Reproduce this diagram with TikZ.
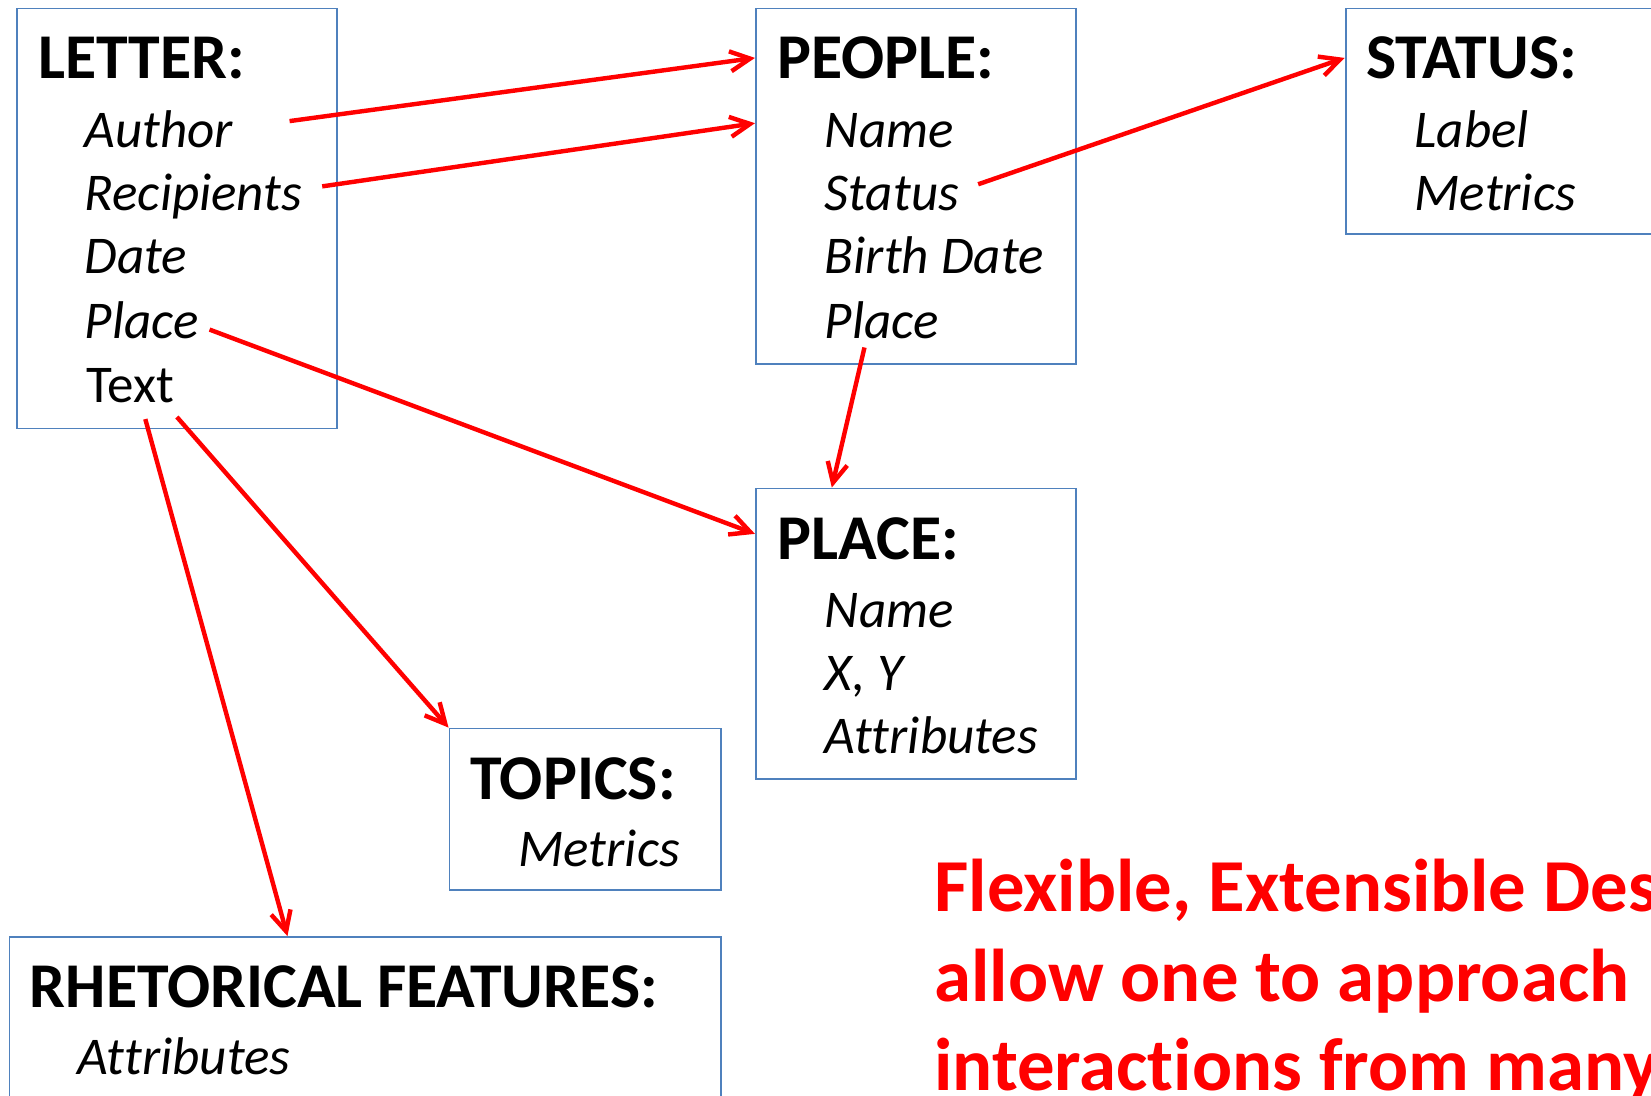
\documentclass[tikz,border=0pt]{standalone}
\usepackage{fontspec}
\setmainfont[Ligatures={NoCommon,NoRare,NoContextual},RawFeature={-liga;-dlig;-calt}]{Carlito}
\usetikzlibrary{arrows.meta,fit}
\definecolor{boxblue}{HTML}{4F81BD}
\definecolor{linkred}{HTML}{FF0000}
\begin{document}
\begin{tikzpicture}[x=0.5pt,y=-0.5pt,
  entity/.style={draw=boxblue, line width=0.8pt, inner sep=0pt},
  heading/.style={anchor=base west, inner sep=0pt, font=\fontsize{30.3}{36}\selectfont\bfseries},
  field/.style={anchor=base west, inner sep=0pt, font=\fontsize{25.2}{30}\selectfont\itshape},
  plainfield/.style={anchor=base west, inner sep=0pt, font=\fontsize{25.2}{30}\selectfont},
  note/.style={anchor=base west, inner sep=0pt, text=linkred, font=\fontsize{35.5}{42.5}\selectfont\bfseries},
  link/.style={draw=linkred, line width=2.1pt,
    -{Straight Barb[length=9.5pt,width=9.5pt,line width=2.1pt]}}]
\useasboundingbox (0,0) rectangle (1568,1040);
\clip (0,0) rectangle (1568,1040);

% entity boxes
\node[entity, fit={(16,8) (320,407)}] (letter) {};
\node[entity, fit={(718,8) (1022,346)}] (people) {};
\node[entity, fit={(1278,8) (1600,222)}] (status) {};
\node[entity, fit={(718,464) (1022,740)}] (place) {};
\node[entity, fit={(427,692) (685,845)}] (topics) {};
\node[entity, fit={(9,890) (685,1070)}] (rhet) {};

% LETTER
\node[heading] (letter-h) at (36,75) {LETTER:};
\node[field] (l-author) at (80,140) {Author};
\node[field] (l-recip) at (80,200) {Recipients};
\node[field] (l-date) at (80,260) {Date};
\node[field] (l-place) at (80,321) {Place};
\node[plainfield] (l-text) at (82,382) {Text};

% PEOPLE
\node[heading] (people-h) at (738,75) {PEOPLE:};
\node[field] (p-name) at (783,140) {Name};
\node[field] (p-status) at (783,200) {Status};
\node[field] (p-birth) at (783,260) {Birth Date};
\node[field] (p-place) at (783,321) {Place};

% STATUS
\node[heading] (status-h) at (1297,75) {STATUS:};
\node[field] (s-label) at (1343,140) {Label};
\node[field] (s-metrics) at (1343,200) {Metrics};

% PLACE
\node[heading] (place-h) at (738,531) {PLACE:};
\node[field] (pl-name) at (783,596) {Name};
\node[field] (pl-xy) at (783,656) {X, Y};
\node[field] (pl-attr) at (783,716) {At\kern0pt tributes};

% TOPICS
\node[heading] (topics-h) at (446,759) {TOPICS:};
\node[field] (t-metrics) at (492,823) {Metrics};

% RHETORICAL FEATURES
\node[heading] (rhet-h) at (28,957) {RHETORICAL FEATURES:};
\node[field] (r-attr) at (73,1020) {At\kern0pt tributes};

% statement
\node[note] (note1) at (887,866) {Flexible, Extensible Designs};
\node[note] (note2) at (887,951) {allow one to approach};
\node[note] (note3) at (887,1036) {interac\kern0pt tions from many};

% connector ends
\coordinate (c-author) at (275,115);
\coordinate (c-recip) at (306,177);
\coordinate (c-pstatus) at (929,175);
\coordinate (c-lplace) at (199,313);
\coordinate (c-pplace) at (821,330);
\coordinate (c-text1) at (168,396);
\coordinate (c-text2) at (138,398);
\coordinate (e-people1) at (717,55);
\coordinate (e-people2) at (717,117);
\coordinate (e-status) at (1277,55);
\coordinate (e-place1) at (717,507);
\coordinate (e-place2) at (790,463);
\coordinate (e-topics) at (426,691);
\coordinate (e-rhet) at (273,889);

% connectors
\draw[link] (c-author) -- (e-people1);
\draw[link] (c-recip) -- (e-people2);
\draw[link] (c-pstatus) -- (e-status);
\draw[link] (c-lplace) -- (e-place1);
\draw[link] (c-pplace) -- (e-place2);
\draw[link] (c-text1) -- (e-topics);
\draw[link] (c-text2) -- (e-rhet);
\end{tikzpicture}
\end{document}
